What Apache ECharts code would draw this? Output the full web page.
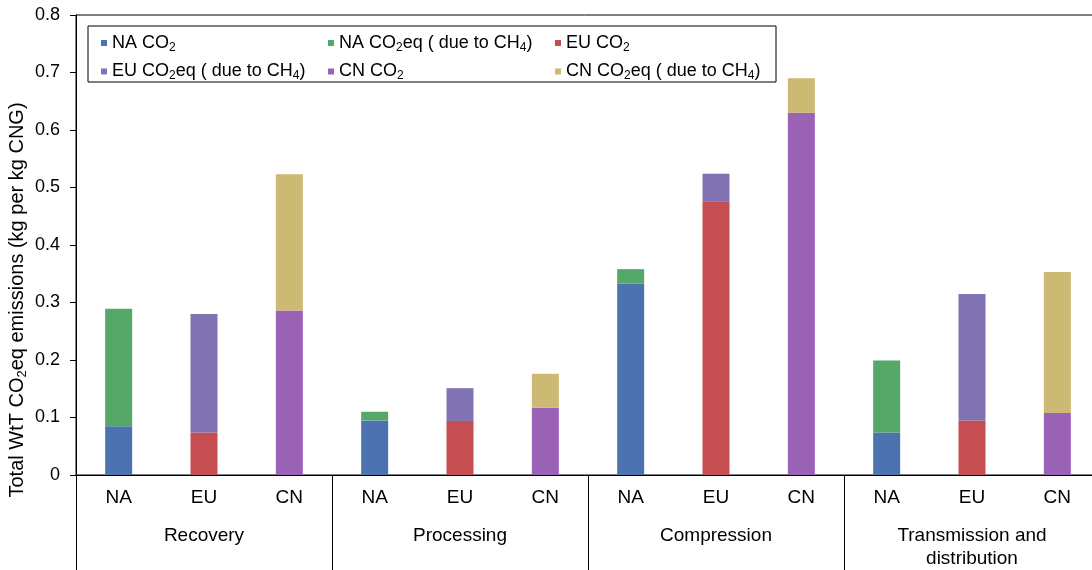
<!DOCTYPE html>
<html>
<head>
<meta charset="utf-8">
<script src="https://cdn.jsdelivr.net/npm/echarts@6/dist/echarts.min.js"></script>
<style>
html,body{margin:0;padding:0;background:#fff;}
#chart{width:1092px;height:570px;}
</style>
</head>
<body>
<div id="chart"></div>
<script>
// ---- data ----
var stages = ['Recovery', 'Processing', 'Compression', 'Transmission and\ndistribution'];
var regions = ['NA', 'EU', 'CN'];
var yTicks = [0, 0.1, 0.2, 0.3, 0.4, 0.5, 0.6, 0.7, 0.8];
// values per stage (Recovery, Processing, Compression, Transmission and distribution)
var naCO2 = [0.085, 0.095, 0.333, 0.074];
var naCH4 = [0.204, 0.015, 0.025, 0.125];
var euCO2 = [0.074, 0.094, 0.475, 0.095];
var euCH4 = [0.206, 0.057, 0.049, 0.220];
var cnCO2 = [0.286, 0.117, 0.630, 0.108];
var cnCH4 = [0.237, 0.059, 0.060, 0.245];
var seriesNames = ['NA CO2', 'NA CO2eq ( due to CH4)', 'EU CO2', 'EU CO2eq ( due to CH4)', 'CN CO2', 'CN CO2eq ( due to CH4)'];
var seriesLabels = ['NA CO{s|2}', 'NA CO{s|2}eq ( due to CH{s|4})', 'EU CO{s|2}', 'EU CO{s|2}eq ( due to CH{s|4})', 'CN CO{s|2}', 'CN CO{s|2}eq ( due to CH{s|4})'];
var seriesColors = ['#4c72b0', '#55a868', '#c44e52', '#8172b2', '#9c62b5', '#ccb974'];

// ---- build ----
var categories = [];
stages.forEach(function () { regions.forEach(function (r) { categories.push(r); }); });
function spread(vals, regionIdx) {
  var out = [];
  stages.forEach(function (s, si) {
    regions.forEach(function (r, ri) { out.push(ri === regionIdx ? vals[si] : '-'); });
  });
  return out;
}
var seriesVals = [naCO2, naCH4, euCO2, euCH4, cnCO2, cnCH4];
var seriesRegion = [0, 0, 1, 1, 2, 2];
var series = seriesVals.map(function (v, i) {
  return {
    name: seriesNames[i], type: 'bar', stack: 'total', barWidth: 27,
    data: spread(v, seriesRegion[i]),
    itemStyle: { color: seriesColors[i] },
    xAxisIndex: 0, yAxisIndex: 0
  };
});
var labelMap = {};
seriesNames.forEach(function (n, i) { labelMap[n] = seriesLabels[i]; });

var FONT = '"Liberation Sans", Arial, sans-serif';
var chart = echarts.init(document.getElementById('chart'), null, { renderer: 'canvas' });
chart.setOption({
  animation: false,
  backgroundColor: '#fff',
  textStyle: { fontFamily: FONT, color: '#000' },
  grid: { left: 76, top: 15, right: -8, bottom: 95, show: true, borderColor: '#000', borderWidth: 1, containLabel: false, outerBoundsMode: 'none' },
  legend: {
    left: 88, top: 26, width: 676, orient: 'horizontal',
    padding: [8, 3, 0, 13],
    itemWidth: 6, itemHeight: 6, itemGap: 9, icon: 'rect',
    borderColor: '#000', borderWidth: 1, backgroundColor: '#fff',
    data: seriesNames,
    formatter: function (n) { return labelMap[n]; },
    textStyle: {
      fontFamily: FONT, fontSize: 18, color: '#000', width: 207, lineHeight: 15,
      rich: { s: { fontFamily: FONT, fontSize: 12, height: 6, verticalAlign: 'bottom', color: '#000' } }
    }
  },
  xAxis: [
    {
      type: 'category', data: categories, position: 'bottom',
      axisLine: { lineStyle: { color: '#000', width: 1 } },
      axisTick: { show: false },
      axisLabel: { fontFamily: FONT, fontSize: 19, color: '#000', margin: 13, lineHeight: 20, interval: 0 }
    },
    {
      type: 'category', data: stages, position: 'bottom', gridIndex: 0,
      axisLine: { show: false },
      axisTick: { show: true, length: 95, lineStyle: { color: '#000', width: 1 }, interval: 0 },
      axisLabel: { fontFamily: FONT, fontSize: 19, color: '#000', margin: 49, lineHeight: 23, interval: 0 }
    }
  ],
  yAxis: {
    type: 'value', min: yTicks[0], max: yTicks[yTicks.length - 1], interval: 0.1,
    axisLine: { show: true, lineStyle: { color: '#000', width: 1 } },
    axisTick: { show: true, length: 6, lineStyle: { color: '#000' } },
    splitLine: { show: false },
    axisLabel: { fontFamily: FONT, fontSize: 18, color: '#000', margin: 16 },
    name: 'Total WtT CO{s|2}eq emissions (kg per kg CNG)',
    nameLocation: 'middle', nameRotate: 90, nameGap: 48, nameMoveOverlap: false,
    nameTextStyle: {
      fontFamily: FONT, fontSize: 20, color: '#000', lineHeight: 22,
      padding: [0, 110, 0, 0],
      rich: { s: { fontFamily: FONT, fontSize: 13, height: 12, verticalAlign: 'bottom', color: '#000' } }
    }
  },
  series: series
});
</script>
</body>
</html>
